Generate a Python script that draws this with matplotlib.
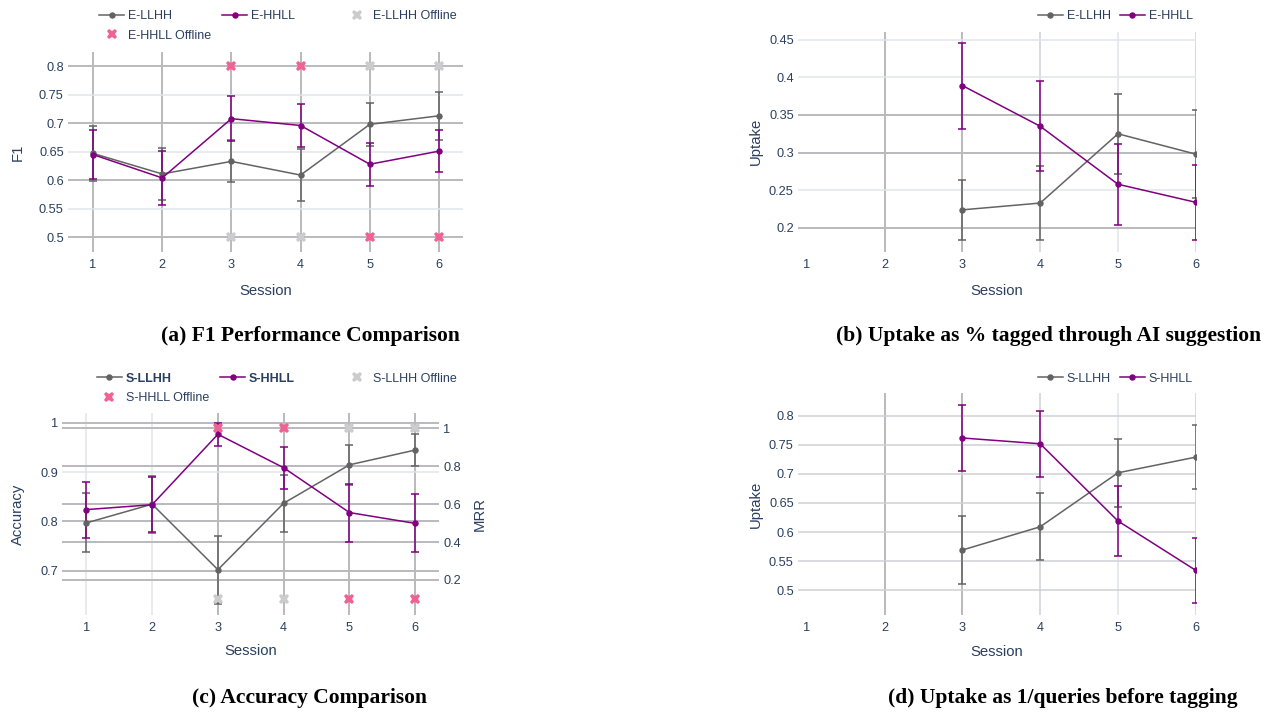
import matplotlib
matplotlib.use('Agg')
import matplotlib.pyplot as plt
from matplotlib.lines import Line2D
from matplotlib.ticker import FuncFormatter

plt.rcParams['font.family'] = ['Liberation Sans', 'DejaVu Sans']

# ---------------- data ----------------
sessions = [1, 2, 3, 4, 5, 6]
offline_sessions = [3, 4, 5, 6]
uptake_sessions = [3, 4, 5, 6]

# (a) F1
f1_llhh = [0.647, 0.611, 0.633, 0.609, 0.698, 0.713]
f1_llhh_err = [0.048, 0.046, 0.037, 0.045, 0.038, 0.042]
f1_hhll = [0.645, 0.604, 0.708, 0.696, 0.628, 0.651]
f1_hhll_err = [0.043, 0.047, 0.039, 0.038, 0.038, 0.037]
f1_llhh_offline = [0.5, 0.5, 0.8, 0.8]
f1_hhll_offline = [0.8, 0.8, 0.5, 0.5]

# (b) Uptake (% tagged through AI suggestion)
upt_e_llhh = [0.224, 0.233, 0.325, 0.298]
upt_e_llhh_err = [0.040, 0.049, 0.053, 0.058]
upt_e_hhll = [0.389, 0.335, 0.258, 0.234]
upt_e_hhll_err = [0.057, 0.060, 0.054, 0.050]

# (c) Accuracy + MRR offline
acc_llhh = [0.797, 0.835, 0.702, 0.837, 0.915, 0.945]
acc_llhh_err = [0.060, 0.058, 0.069, 0.058, 0.040, 0.033]
acc_hhll = [0.824, 0.834, 0.977, 0.909, 0.818, 0.796]
acc_hhll_err = [0.057, 0.056, 0.023, 0.043, 0.059, 0.059]
mrr_llhh_offline = [0.1, 0.1, 1.0, 1.0]
mrr_hhll_offline = [1.0, 1.0, 0.1, 0.1]

# (d) Uptake (1/queries before tagging)
upt_s_llhh = [0.569, 0.609, 0.702, 0.729]
upt_s_llhh_err = [0.059, 0.058, 0.059, 0.055]
upt_s_hhll = [0.762, 0.752, 0.619, 0.534]
upt_s_hhll_err = [0.057, 0.057, 0.060, 0.056]

f1_ticks = [0.5, 0.55, 0.6, 0.65, 0.7, 0.75, 0.8]
upt_e_ticks = [0.2, 0.25, 0.3, 0.35, 0.4, 0.45]
acc_ticks = [0.7, 0.8, 0.9, 1.0]
mrr_ticks = [0.2, 0.4, 0.6, 0.8, 1.0]
upt_s_ticks = [0.5, 0.55, 0.6, 0.65, 0.7, 0.75, 0.8]

# ---------------- style ----------------
W, H = 1272, 714
GRAY = '#636363'
PURPLE = '#800080'
PINK = '#f06292'
LIGHTX = '#cccccc'
TXT = '#2a3f5f'
DARKG = '#b9b9be'
MIDG = '#cfd1d6'
LIGHTG = '#e2e5ea'
LW = 1.1
MS = 3.6
XMS = 7.5
TICK_FS = 9.2
TITLE_FS = 10.7
LEG_FS = 9.0

fig = plt.figure(figsize=(W / 100, H / 100), dpi=100)


def px_axes(left, top, right, bottom):
    return fig.add_axes([left / W, 1 - bottom / H, (right - left) / W, (bottom - top) / H])


fmt = FuncFormatter(lambda v, p: '{:g}'.format(round(v, 4)))


def style(ax, xlim, ylim, yticks, xgrid_cols, ygrid_cols, xgrid_ticks=sessions):
    ax.set_xlim(*xlim)
    ax.set_ylim(*ylim)
    for s in ax.spines.values():
        s.set_visible(False)
    ax.set_xticks(sessions)
    ax.set_yticks(yticks)
    ax.yaxis.set_major_formatter(fmt)
    ax.tick_params(length=0, labelsize=TICK_FS, colors=TXT)
    ax.tick_params(axis='x', pad=5)
    ax.tick_params(axis='y', pad=3)
    for t, c in zip(xgrid_ticks, xgrid_cols):
        if c:
            ax.axvline(t, color=c, lw=1.4 if c == DARKG else 1.1, zorder=0.5)
    for t, c in zip(yticks, ygrid_cols):
        ax.axhline(t, color=c, lw=1.4 if c == DARKG else 1.1, zorder=0.5)


def series(ax, x, y, e, color, label):
    ax.errorbar(x, y, yerr=e, color=color, lw=LW, marker='o', ms=MS,
                elinewidth=LW, capsize=2.6, capthick=LW, label=label, zorder=3,
                clip_on=True)


def labels(ax, ylab, ylab_x, xlab_y):
    ax.set_xlabel('Session', fontsize=TITLE_FS, color=TXT)
    ax.set_ylabel(ylab, fontsize=TITLE_FS, color=TXT)
    ax.xaxis.set_label_coords(0.5, xlab_y)
    ax.xaxis.label.set_va('center')
    ax.yaxis.set_label_coords(ylab_x, 0.5)
    ax.yaxis.label.set_va('center')


def line_handle(color):
    return Line2D([], [], color=color, lw=LW, marker='o', ms=MS)


def x_handle(color):
    return Line2D([], [], color=color, lw=0, marker='X', ms=XMS, markeredgewidth=0)


def place_legend(handles, labs, x_px, y_px, ncol=1, bold=()):
    leg = fig.legend(handles, labs, loc='upper left',
                     bbox_to_anchor=(x_px / W, 1 - y_px / H), ncol=ncol,
                     frameon=False, borderpad=0, borderaxespad=0,
                     handlelength=2.0, handletextpad=0.33, columnspacing=0.7,
                     labelspacing=0.62, fontsize=LEG_FS, labelcolor=TXT)
    for t in leg.get_texts():
        if t.get_text() in bold:
            t.set_fontweight('bold')
    return leg


# ---------------- (a) ----------------
axa = px_axes(68, 52, 463, 252)
style(axa, (0.639, 6.347), (0.474, 0.825), f1_ticks,
      [DARKG] * 6,
      [DARKG, LIGHTG, DARKG, LIGHTG, DARKG, LIGHTG, DARKG])
series(axa, sessions, f1_llhh, f1_llhh_err, GRAY, 'E-LLHH')
series(axa, sessions, f1_hhll, f1_hhll_err, PURPLE, 'E-HHLL')
axa.plot(offline_sessions, f1_llhh_offline, 'X', color=LIGHTX, ms=XMS, mew=0, zorder=4, clip_on=False)
axa.plot(offline_sessions, f1_hhll_offline, 'X', color=PINK, ms=XMS, mew=0, zorder=4, clip_on=False)
labels(axa, 'F1', -0.127, -0.195)
LY1 = 10
place_legend([line_handle(GRAY), x_handle(PINK)], ['E-LLHH', 'E-HHLL Offline'], 99, LY1)
place_legend([line_handle(PURPLE)], ['E-HHLL'], 222, LY1)
place_legend([x_handle(LIGHTX)], ['E-LLHH Offline'], 344, LY1)

# ---------------- (b) ----------------
axb = px_axes(798, 31.7, 1195.7, 252)
style(axb, (0.885, 6.0), (0.168, 0.4606), upt_e_ticks,
      [None, DARKG, DARKG, MIDG, LIGHTG, MIDG],
      [DARKG, LIGHTG, DARKG, DARKG, LIGHTG, LIGHTG])
series(axb, uptake_sessions, upt_e_llhh, upt_e_llhh_err, GRAY, 'E-LLHH')
series(axb, uptake_sessions, upt_e_hhll, upt_e_hhll_err, PURPLE, 'E-HHLL')
labels(axb, 'Uptake', -0.1056, -0.177)
place_legend([line_handle(GRAY), line_handle(PURPLE)], ['E-LLHH', 'E-HHLL'], 1037.7, LY1, ncol=2)

# ---------------- (c) ----------------
axc = px_axes(62.3, 413.3, 439.3, 615)
axc2 = axc.twinx()
axc2.set_ylim(0.015, 1.079)
axc2.set_yticks(mrr_ticks)
axc2.yaxis.set_major_formatter(fmt)
axc2.tick_params(length=0, labelsize=TICK_FS, colors=TXT, pad=3)
for s in axc2.spines.values():
    s.set_visible(False)
axc2.set_ylabel('MRR', fontsize=TITLE_FS, color=TXT)
axc2.yaxis.set_label_coords(1.108, 0.5)
axc2.yaxis.label.set_va('center')
axc.set_zorder(axc2.get_zorder() + 1)
axc.patch.set_visible(False)
style(axc, (0.635, 6.365), (0.61, 1.0196), acc_ticks,
      [LIGHTG, LIGHTG, DARKG, DARKG, DARKG, DARKG],
      [DARKG, DARKG, LIGHTG, DARKG])
tr = matplotlib.transforms.blended_transform_factory(axc.transAxes, axc2.transData)
for t in mrr_ticks:
    axc.plot([0, 1], [t, t], transform=tr, color=DARKG, lw=1.4, zorder=0.5)
series(axc, sessions, acc_llhh, acc_llhh_err, GRAY, 'S-LLHH')
series(axc, sessions, acc_hhll, acc_hhll_err, PURPLE, 'S-HHLL')
axc.plot(offline_sessions, mrr_llhh_offline, 'X', color=LIGHTX, ms=XMS, mew=0, zorder=4,
         transform=axc2.transData, clip_on=False)
axc.plot(offline_sessions, mrr_hhll_offline, 'X', color=PINK, ms=XMS, mew=0, zorder=4,
         transform=axc2.transData, clip_on=False)
axc.set_xlim(0.635, 6.365)
axc.set_ylim(0.61, 1.0196)
labels(axc, 'Accuracy', -0.118, -0.18)
LY2 = 372.5
place_legend([line_handle(GRAY), x_handle(PINK)], ['S-LLHH', 'S-HHLL Offline'], 96.7, LY2,
             bold=('S-LLHH',))
place_legend([line_handle(PURPLE)], ['S-HHLL'], 220, LY2, bold=('S-HHLL',))
place_legend([x_handle(LIGHTX)], ['S-LLHH Offline'], 344, LY2)

# ---------------- (d) ----------------
axd = px_axes(798, 393.3, 1195.7, 615)
style(axd, (0.885, 6.0), (0.457, 0.839), upt_s_ticks,
      [None, DARKG, DARKG, MIDG, LIGHTG, MIDG],
      [MIDG] * 7)
series(axd, uptake_sessions, upt_s_llhh, upt_s_llhh_err, GRAY, 'S-LLHH')
series(axd, uptake_sessions, upt_s_hhll, upt_s_hhll_err, PURPLE, 'S-HHLL')
labels(axd, 'Uptake', -0.1056, -0.165)
place_legend([line_handle(GRAY), line_handle(PURPLE)], ['S-LLHH', 'S-HHLL'], 1037.7, LY2, ncol=2)

# ---------------- captions ----------------
cap_kw = dict(family=['Liberation Serif', 'DejaVu Serif'], fontweight='bold', fontsize=15.5,
              ha='center', va='center', color='black')
fig.text(310 / W, 1 - 336 / H, '(a) F1 Performance Comparison', **cap_kw)
fig.text(1049 / W, 1 - 336 / H, '(b) Uptake as % tagged through AI suggestion', **cap_kw)
fig.text(310 / W, 1 - 698 / H, '(c) Accuracy Comparison', **cap_kw)
fig.text(1063 / W, 1 - 698 / H, '(d) Uptake as 1/queries before tagging', **cap_kw)

fig.savefig('out.png', dpi=100)
